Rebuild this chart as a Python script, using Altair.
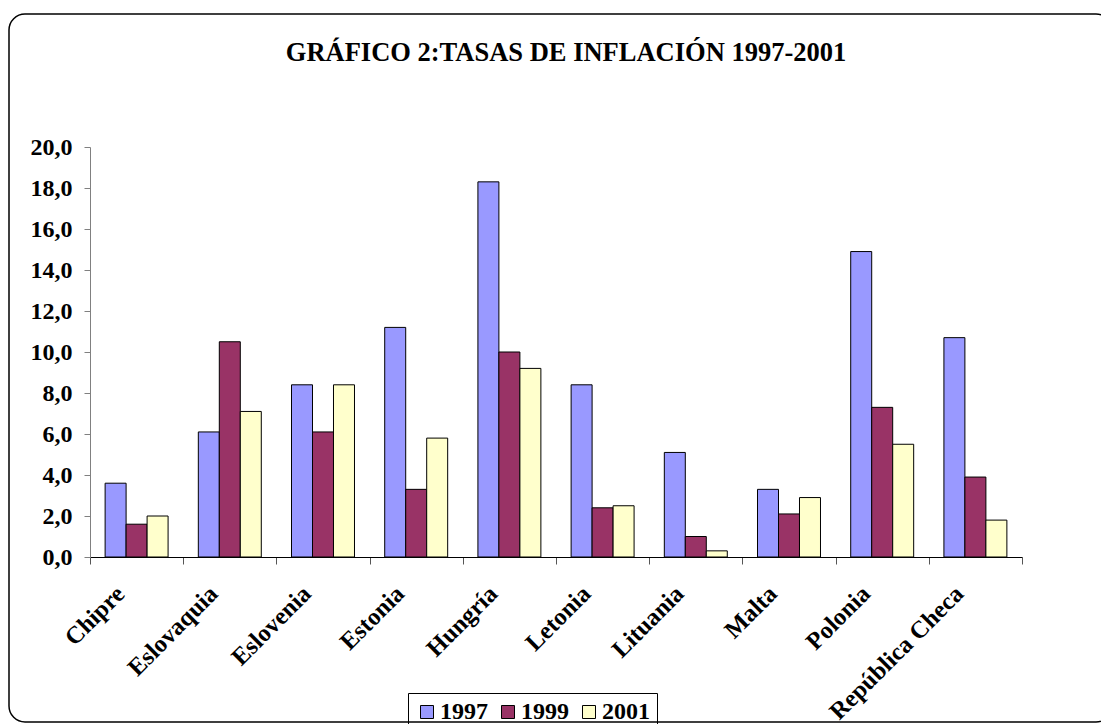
import altair as alt
import pandas as pd

countries = ["Chipre", "Eslovaquia", "Eslovenia", "Estonia", "Hungría",
             "Letonia", "Lituania", "Malta", "Polonia", "República Checa"]
years = ["1997", "1999", "2001"]
v1997 = [3.6, 6.1, 8.4, 11.2, 18.3, 8.4, 5.1, 3.3, 14.9, 10.7]
v1999 = [1.6, 10.5, 6.1, 3.3, 10.0, 2.4, 1.0, 2.1, 7.3, 3.9]
v2001 = [2.0, 7.1, 8.4, 5.8, 9.2, 2.5, 0.3, 2.9, 5.5, 1.8]
colors = ["#9999FF", "#993366", "#FFFFCC"]
y_ticks = [0, 2, 4, 6, 8, 10, 12, 14, 16, 18, 20]
title_text = "GRÁFICO 2:TASAS DE INFLACIÓN 1997-2001"

rows = []
for i, c in enumerate(countries):
    for yr, vals in zip(years, [v1997, v1999, v2001]):
        rows.append({"pais": c, "anio": yr, "valor": vals[i]})
df = pd.DataFrame(rows)

FONT = "Liberation Serif"

bars = alt.Chart(df).mark_bar(stroke="black", strokeWidth=1).encode(
    x=alt.X("pais:N", sort=countries, title=None,
            scale=alt.Scale(paddingInner=0, paddingOuter=0),
            axis=alt.Axis(labelAngle=-45, labelAlign="right", labelBaseline="middle",
                          labelFont=FONT, labelFontSize=24.5, labelFontWeight="bold",
                          labelColor="black", tickBand="extent", tickSize=7,
                          tickColor="#555555", domainColor="black", labelPadding=26,
                          labelOffset=-16, grid=False)),
    xOffset=alt.XOffset("anio:N", sort=years,
                        scale=alt.Scale(paddingInner=0, paddingOuter=0.72)),
    y=alt.Y("valor:Q", title=None, scale=alt.Scale(domain=[0, 20], nice=False),
            axis=alt.Axis(values=y_ticks,
                          labelExpr="replace(format(datum.value, '.1f'), '.', ',')",
                          labelFont=FONT, labelFontSize=24, labelFontWeight="bold",
                          labelColor="black", tickSize=6, tickColor="#808080",
                          domainColor="#808080", labelPadding=12, grid=False)),
    color=alt.Color("anio:N", sort=years,
                    scale=alt.Scale(domain=years, range=colors),
                    legend=alt.Legend(title=None, orient="none", legendX=318, legendY=546,
                                      direction="horizontal", symbolType="square",
                                      symbolSize=169, symbolStrokeColor="black",
                                      symbolStrokeWidth=1, symbolOpacity=1,
                                      labelFont=FONT, labelFontSize=24,
                                      labelFontWeight="bold", labelColor="black",
                                      strokeColor="black", padding=7,
                                      columnPadding=8, labelOffset=1)),
)

title = alt.Chart(alt.Data(values=[{"t": title_text}])).mark_text(
    font=FONT, fontSize=26.5, fontWeight="bold", color="black",
    align="center", baseline="alphabetic"
).encode(text="t:N", x=alt.value(476), y=alt.value(-86))

frame = alt.Chart(alt.Data(values=[{}])).mark_rect(
    fillOpacity=0, stroke="black", strokeWidth=1.5, cornerRadius=16
).encode(
    x=alt.value(-81), x2=alt.value(1022), y=alt.value(-133), y2=alt.value(575)
)

chart = alt.layer(frame, title, bars).properties(
    width=932, height=410,
    autosize=alt.AutoSizeParams(type="none"),
    padding={"left": 82, "top": 139, "right": 79, "bottom": 175},
).configure_view(stroke=None)

chart.save("out.html", embed_options={"renderer": "svg", "actions": False})
